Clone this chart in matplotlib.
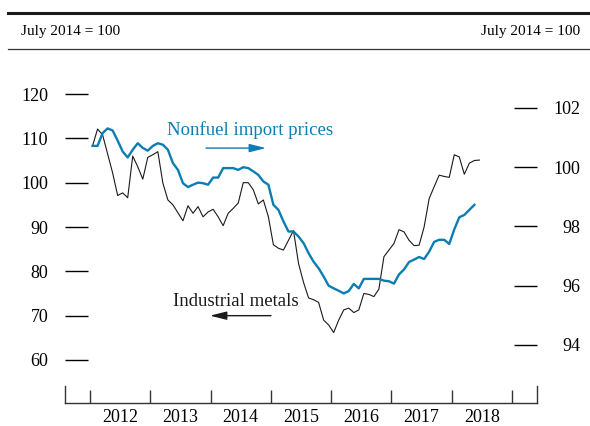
import matplotlib
matplotlib.use('Agg')
from matplotlib import pyplot as plt
from matplotlib.lines import Line2D

plt.rcParams['font.family'] = ['Liberation Serif', 'DejaVu Serif']

# monthly values, starting January 2012
start_year = 2012
metals = [108.3, 112.1, 110.8, 106.5, 102.2, 97.1, 97.7, 96.6, 106.0, 103.6, 100.8, 105.7,
          106.3, 107.0, 99.9, 96.1, 95.0, 93.2, 91.4, 94.8, 93.1, 94.6, 92.3, 93.4,
          94.0, 92.3, 90.3, 93.1, 94.2, 95.4, 100.0, 100.0, 98.4, 95.2, 96.1, 92.3,
          86.0, 85.2, 84.8, 87.0, 89.2, 81.8, 77.5, 74.0, 73.6, 73.0, 69.0, 67.9,
          66.2, 69.0, 71.3, 71.7, 70.7, 71.3, 75.0, 74.8, 74.3, 76.0, 83.3, 84.8,
          86.3, 89.4, 88.9, 87.0, 85.8, 85.9, 90.0, 96.4, 99.1, 101.7, 101.4, 101.2,
          106.3, 105.8, 101.9, 104.4, 105.0, 105.1]
nonfuel = [100.72, 100.72, 101.15, 101.31, 101.24, 100.90, 100.53, 100.33, 100.59, 100.81, 100.65, 100.56,
           100.72, 100.81, 100.76, 100.59, 100.14, 99.91, 99.46, 99.33, 99.41, 99.48, 99.46, 99.41,
           99.65, 99.65, 99.97, 99.97, 99.97, 99.91, 100.0, 99.97, 99.86, 99.74, 99.52, 99.41,
           98.73, 98.56, 98.17, 97.83, 97.83, 97.66, 97.44, 97.10, 96.81, 96.59, 96.31, 96.00,
           95.91, 95.83, 95.74, 95.82, 96.06, 95.91, 96.23, 96.23, 96.23, 96.23, 96.17, 96.15,
           96.07, 96.38, 96.55, 96.80, 96.88, 96.97, 96.90, 97.15, 97.48, 97.55, 97.55, 97.41,
           97.90, 98.31, 98.39, 98.56, 98.73]
years = [2012, 2013, 2014, 2015, 2016, 2017, 2018]
left_ticks = [60, 70, 80, 90, 100, 110, 120]
right_ticks = [94, 96, 98, 100, 102]

BLUE = '#0c7db3'

t_metals = [start_year + (i + 0.5) / 12 for i in range(len(metals))]
t_nonfuel = [start_year + (i + 0.5) / 12 for i in range(len(nonfuel))]

fig = plt.figure(figsize=(5.9, 4.26), dpi=100)
ax = fig.add_axes([65/590, 1-403/426, 472/590, 343/426])
ax2 = ax.twinx()

ax.plot(t_metals, metals, color='#1a1a1a', lw=0.8, zorder=3)
ax2.plot(t_nonfuel, nonfuel, color=BLUE, lw=1.7, zorder=2)

ax.set_xlim(2011.585, 2019.414)
ax.set_ylim(50.3, 127.67)
ax2.set_ylim(92.04, 103.62)

for s in ['top', 'right']:
    ax.spines[s].set_visible(False)
for s in ['top', 'left', 'bottom']:
    ax2.spines[s].set_visible(False)
# short end ticks at both ends of the time axis
ax.spines['left'].set_bounds(50.3, 50.3 + 17/4.433)
ax2.spines['right'].set_bounds(92.04, 92.04 + 17/29.625)
for a, s in [(ax, 'left'), (ax, 'bottom'), (ax2, 'right')]:
    a.spines[s].set_linewidth(1.0)
    a.spines[s].set_color('#333333')

ax.set_xticks(range(2012, 2020))
ax.set_xticklabels([])
ax.set_xticks([y + 0.5 for y in years], labels=[str(y) for y in years], minor=True)
ax.tick_params(axis='x', which='major', direction='in', length=9.4, width=1.0, color='#333333')
ax.tick_params(axis='x', which='minor', length=0, pad=4, labelsize=13)

ax.set_yticks(left_ticks)
ax.tick_params(axis='y', direction='in', length=16.5, width=1.0, pad=12, labelsize=13)
ax2.set_yticks(right_ticks)
ax2.tick_params(axis='y', direction='in', length=16.5, width=1.0, pad=31, labelsize=13)
for lab in ax2.get_yticklabels():
    lab.set_horizontalalignment('right')

ax.text(2014.654, 111.9, 'Nonfuel import prices', color=BLUE, fontsize=13.5,
        ha='center', va='center')
ax.annotate('', xy=(2014.919, 107.8), xytext=(2013.924, 107.8),
            arrowprops=dict(arrowstyle='-|>,head_length=1.0,head_width=0.25',
                            color=BLUE, lw=1.0, mutation_scale=10, shrinkA=0, shrinkB=0))
ax.text(2014.413, 73.15, 'Industrial metals', color='#1a1a1a', fontsize=13.5,
        ha='center', va='center')
ax.annotate('', xy=(2013.990, 70.0), xytext=(2015.002, 70.0),
            arrowprops=dict(arrowstyle='-|>,head_length=1.0,head_width=0.25',
                            color='#1a1a1a', lw=1.0, mutation_scale=10, shrinkA=0, shrinkB=0))

# header
fig.add_artist(Line2D([8/590, 1], [1-13/426, 1-13/426], lw=2.2, color='#1a1a1a'))
fig.add_artist(Line2D([8/590, 1], [1-49/426, 1-49/426], lw=0.9, color='#333333'))
fig.text(21/590, 1-32/426, 'July 2014 = 100', fontsize=11, ha='left', va='center')
fig.text(580/590, 1-32/426, 'July 2014 = 100', fontsize=11, ha='right', va='center')

fig.savefig('out.png', dpi=100)
